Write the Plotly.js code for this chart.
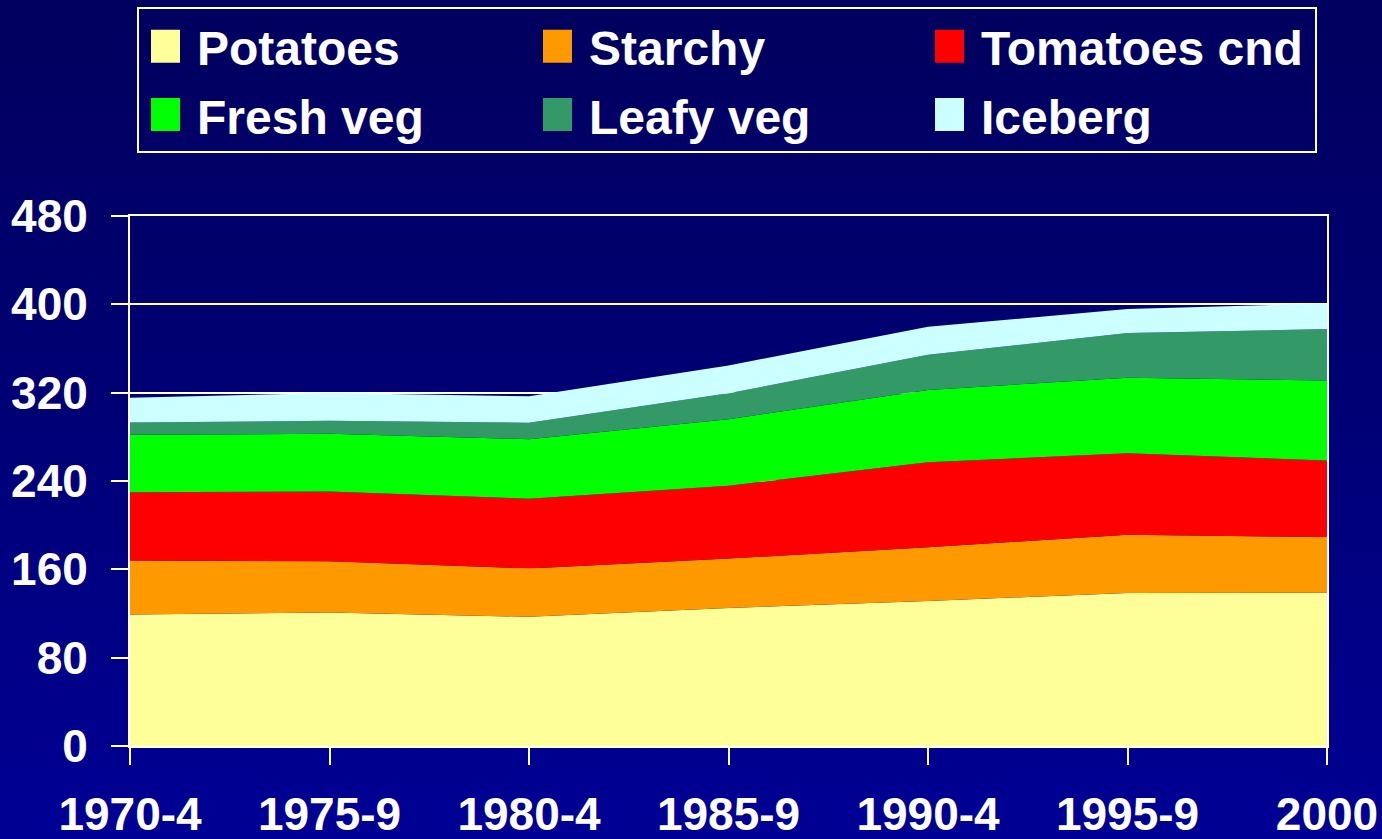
<!DOCTYPE html>
<html>
<head>
<meta charset="utf-8">
<script src="https://cdn.plot.ly/plotly-3.0.1.min.js"></script>
<style>
  html, body { margin: 0; padding: 0; }
  body { width: 1382px; height: 839px; background: linear-gradient(to bottom, #00005E 0%, #000070 40%, #000094 100%); overflow: hidden; }
  #chart { width: 1382px; height: 839px; }
</style>
</head>
<body>
<div id="chart"></div>
<script>
const periods = ["1970-4", "1975-9", "1980-4", "1985-9", "1990-4", "1995-9", "2000"];
const potatoes   = [119.0, 120.9, 117.0, 125.0, 131.4, 138.6, 139.0];
const starchy    = [49.0, 46.4, 43.7, 44.7, 48.6, 52.8, 50.2];
const tomatoesCnd = [61.7, 63.3, 63.3, 66.0, 77.0, 73.8, 69.4];
const freshVeg   = [52.3, 52.1, 53.9, 60.3, 65.5, 68.2, 72.4];
const leafyVeg   = [11.0, 11.8, 14.8, 23.4, 31.9, 40.6, 46.6];
const iceberg    = [22.3, 25.3, 24.0, 25.3, 25.3, 21.7, 23.2];
const yTicks = [0, 80, 160, 240, 320, 400, 480];

const seriesNames = ["Potatoes", "Starchy", "Tomatoes cnd", "Fresh veg", "Leafy veg", "Iceberg"];
const seriesValues = [potatoes, starchy, tomatoesCnd, freshVeg, leafyVeg, iceberg];
const seriesColors = ["#FFFF99", "#FF9900", "#FF0000", "#00FF00", "#339966", "#CCFFFF"];

const traces = seriesNames.map((name, i) => ({
  type: "scatter",
  mode: "lines",
  name: name,
  x: periods,
  y: seriesValues[i],
  stackgroup: "one",
  fillcolor: seriesColors[i],
  line: { width: 0, color: seriesColors[i] },
  hoverinfo: "x+y+name"
}));

const fontFam = "Liberation Sans, Arial, Helvetica, sans-serif";

const layout = {
  width: 1382,
  height: 839,
  paper_bgcolor: "rgba(0,0,0,0)",
  plot_bgcolor: "rgba(0,0,0,0)",
  margin: { l: 130, r: 55, t: 216, b: 93, pad: 0, autoexpand: false },
  showlegend: true,
  legend: {
    orientation: "h",
    xref: "container",
    yref: "container",
    x: 137 / 1382,
    xanchor: "left",
    y: 1 - 7 / 839,
    yanchor: "top",
    bgcolor: "rgba(0,0,0,0)",
    bordercolor: "#FFFFFF",
    borderwidth: 2,
    entrywidth: 347,
    entrywidthmode: "pixels",
    traceorder: "normal",
    font: { family: fontFam, size: 48, color: "#FFFFFF", weight: "bold" }
  },
  xaxis: {
    type: "category",
    range: [0, 6],
    showgrid: false,
    showline: true,
    mirror: true,
    linecolor: "#FFFFFF",
    linewidth: 2,
    ticks: "outside",
    ticklen: 17,
    tickwidth: 2,
    tickcolor: "#FFFFFF",
    ticklabelstandoff: 10,
    tickfont: { family: fontFam, size: 46, color: "#FFFFFF", weight: "bold" },
    automargin: false,
    fixedrange: true,
    zeroline: false
  },
  yaxis: {
    range: [0, 480],
    tickvals: yTicks,
    ticktext: yTicks.map(String),
    showgrid: true,
    gridcolor: "#FFFFFF",
    gridwidth: 2,
    showline: true,
    mirror: true,
    linecolor: "#FFFFFF",
    linewidth: 2,
    ticks: "outside",
    ticklen: 17,
    tickwidth: 2,
    tickcolor: "#FFFFFF",
    ticklabelstandoff: 14,
    tickfont: { family: fontFam, size: 46, color: "#FFFFFF", weight: "bold" },
    automargin: false,
    fixedrange: true,
    zeroline: false
  }
};

Plotly.newPlot("chart", traces, layout, { displayModeBar: false, staticPlot: true }).then(gd => {
  const rowShift = 3;
  const colShift = 18;
  gd.querySelectorAll(".legend .traces").forEach((tr, i) => {
    tr.querySelectorAll(".legendfill path").forEach(p => {
      p.setAttribute("d", "M-6,-17h29v33h-29z");
      p.style.fill = seriesColors[i];
      p.style.fillOpacity = 1;
      p.style.stroke = "none";
    });
    tr.querySelectorAll(".legendlines path").forEach(p => p.style.display = "none");
    const t = tr.getAttribute("transform") || "";
    const m = t.match(/translate\(\s*([-\d.]+)[ ,]+([-\d.]+)\s*\)/);
    if (m) {
      const nx = parseFloat(m[1]) + colShift;
      const ny = parseFloat(m[2]) + (i >= 3 ? rowShift : 0);
      tr.setAttribute("transform", "translate(" + nx + "," + ny + ")");
    }
  });
  const bg = gd.querySelector(".legend .bg");
  if (bg) bg.setAttribute("height", parseFloat(bg.getAttribute("height")) + 1);
  gd.querySelectorAll(".legend .scrollbox").forEach(s => s.removeAttribute("clip-path"));
});
</script>
</body>
</html>
